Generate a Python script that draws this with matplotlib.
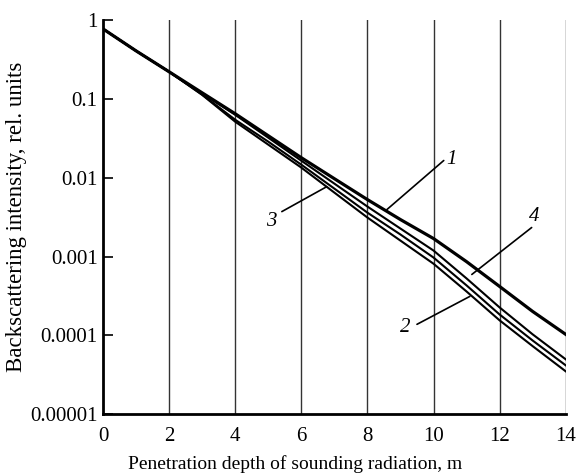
import matplotlib
matplotlib.use('Agg')
import matplotlib.pyplot as plt

# глубина, м
depth = [0, 1, 2, 3, 4, 5, 6, 7, 8, 9, 10, 11, 12, 13, 14]

# (log scale)
curve_1 = [0.77, 0.405, 0.22, 0.119, 0.0646, 0.034, 0.0179, 0.0097, 0.00527, 0.00294,
           0.00169, 0.00086, 0.000417, 0.000201, 0.000103]
curve_4 = [0.77, 0.405, 0.22, 0.117, 0.0627, 0.0321, 0.0164, 0.0084, 0.0043, 0.00226,
           0.00119, 0.000527, 0.000226, 0.000103, 4.97e-5]
curve_3 = [0.77, 0.405, 0.22, 0.113, 0.0542, 0.0286, 0.0146, 0.00726, 0.0036, 0.0019,
           0.00097, 0.00043, 0.000184, 8.6e-5, 4.17e-5]
curve_2 = [0.77, 0.405, 0.22, 0.112, 0.0512, 0.0262, 0.0134, 0.00646, 0.00312, 0.00159,
           0.00081, 0.00036, 0.000155, 7.3e-5, 3.5e-5]

x_ticks = [0, 2, 4, 6, 8, 10, 12, 14]
y_ticks = [1, 0.1, 0.01, 0.001, 0.0001, 0.00001]
y_tick_labels = ['1', '0.1', '0.01', '0.001', '0.0001', '0.00001']

plt.rcParams['font.family'] = ['Liberation Serif', 'DejaVu Serif']

fig = plt.figure(figsize=(5.79, 4.75), dpi=100)
ax = fig.add_axes([0.178, 0.128, 0.799, 0.830])

for xv in x_ticks[1:]:
    ax.axvline(xv, color='#333333', lw=1.0, zorder=1)

ax.plot(depth, curve_2, color='black', lw=1.5, zorder=3)
ax.plot(depth, curve_3, color='black', lw=1.5, zorder=3)
ax.plot(depth, curve_4, color='black', lw=1.5, zorder=3)
ax.plot(depth, curve_1, color='black', lw=2.3, zorder=4)

ax.set_yscale('log')
ax.set_xlim(0, 14)
ax.set_ylim(1e-5, 1)
ax.set_xticks(x_ticks)
ax.set_yticks(y_ticks)
ax.set_yticklabels(y_tick_labels)
ax.minorticks_off()
ax.tick_params(axis='y', direction='in', length=7, width=1.2, labelsize=15, pad=4)
ax.tick_params(axis='x', direction='in', length=0, labelsize=15, pad=9)

ax.spines['top'].set_visible(False)
ax.spines['right'].set_visible(False)
ax.spines['left'].set_linewidth(2)
ax.spines['bottom'].set_linewidth(2)

ax.set_xlabel('Penetration depth of sounding radiation, m', fontsize=14)
ax.xaxis.set_label_coords(0.415, -0.103)
ax.set_ylabel('Backscattering intensity, rel. units', fontsize=16.5, labelpad=2)

# подписи кривых
labels = [('1', (10.55, 0.0169), (10.31, 0.0165), (8.59, 0.00394)),
          ('3', (5.08, 0.00277), (5.41, 0.00371), (6.77, 0.00769)),
          ('4', (13.06, 0.0032), (12.97, 0.00233), (11.16, 0.000592)),
          ('2', (9.13, 0.000126), (9.5, 0.000138), (11.10, 0.000312))]
for s, txt_pos, a, b in labels:
    ax.text(txt_pos[0], txt_pos[1], s, fontsize=15, style='italic', ha='center', va='center')
    ax.annotate('', xy=b, xytext=a, arrowprops=dict(arrowstyle='-', lw=1.2, color='black',
                                                     shrinkA=0, shrinkB=0))

fig.savefig('out.png', dpi=100)
